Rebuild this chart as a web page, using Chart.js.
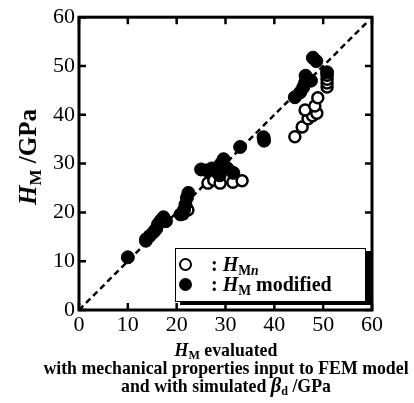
<!DOCTYPE html>
<html>
<head>
<meta charset="utf-8">
<script src="https://cdn.jsdelivr.net/npm/chart.js@4/dist/chart.umd.min.js"></script>
<style>
  html, body { margin: 0; padding: 0; background: #fff; }
  #wrap { position: relative; width: 414px; height: 403px; overflow: hidden; }
  canvas { position: absolute; left: 0; top: 0; }
  .serif { font-family: "Liberation Serif", "Times New Roman", serif; font-weight: bold; color: #000; }
  .sub { font-size: 0.68em; vertical-align: -0.28em; line-height: 0; }
  #ytitle { position: absolute; left: 28px; top: 157px; transform: translate(-50%, -50%) rotate(-90deg); font-size: 25px; white-space: nowrap; }
  #xtitle { position: absolute; left: 226px; top: 342px; transform: translateX(-50%); font-size: 17.8px; line-height: 17.5px; text-align: center; white-space: nowrap; }
  #legend { position: absolute; left: 175px; top: 248px; width: 189px; height: 52px; border: 1.5px solid #000; background: #fff; box-shadow: 5px 3px 0 #000; font-size: 20px; }
  .mk { position: absolute; width: 9px; height: 9px; border-radius: 50%; border: 2.5px solid #000; }
  .row { position: absolute; left: 35px; white-space: nowrap; line-height: 20px; }
</style>
</head>
<body>
<div id="wrap">
  <canvas id="c" width="414" height="403"></canvas>
  <div id="ytitle" class="serif"><i>H</i><span class="sub">M</span> /GPa</div>
  <div id="xtitle" class="serif">
    <div><i>H</i><span class="sub">M</span> evaluated</div>
    <div>with mechanical properties input to FEM model</div>
    <div>and with simulated <i style="font-size:1.15em">&beta;</i><span class="sub">d</span> /GPa</div>
  </div>
  <div id="legend" class="serif">
    <div class="mk" style="left:3px;top:9px;background:#fff;"></div>
    <div class="mk" style="left:3px;top:29px;background:#000;"></div>
    <div class="row" style="top:5px;">: <i>H</i><span class="sub">M<i>n</i></span></div>
    <div class="row" style="top:25px;">: <i>H</i><span class="sub">M</span> modified</div>
  </div>
</div>
<script>
// ---- data ----
const filledX = [10.0, 13.7, 14.5, 15.3, 15.8, 16.2, 16.8, 17.3, 17.8, 20.8, 21.5, 21.8, 22.1, 22.4,
                 25.0, 26.2, 27.2, 28.2, 29.0, 29.6, 28.8, 30.4, 31.6, 33.0, 37.8, 37.9,
                 44.2, 45.3, 45.9, 46.3, 46.4, 47.5, 47.9, 48.6, 50.8];
const filledY = [10.8, 14.2, 15.2, 16.0, 16.6, 17.6, 18.4, 19.0, 18.2, 19.6, 20.5, 21.6, 23.0, 24.0,
                 28.8, 28.6, 29.0, 28.3, 29.9, 30.9, 27.6, 29.0, 28.1, 33.4, 35.4, 34.7,
                 43.6, 44.6, 45.6, 46.6, 48.0, 47.0, 51.7, 51.0, 48.7];
const openX = [13.7, 21.3, 22.3, 26.4, 27.6, 28.9, 31.5, 33.4,
               44.2, 45.7, 46.9, 47.8, 48.7, 46.3, 48.3, 48.9, 50.8, 50.8, 50.8, 50.8];
const openY = [14.5, 19.7, 20.5, 26.0, 26.6, 26.0, 26.2, 26.5,
               35.5, 37.5, 39.2, 39.8, 40.3, 41.0, 41.8, 43.5, 45.7, 46.5, 47.3, 48.1];
const lineX = [0, 59];
const lineY = [0, 59];
const tickValues = [0, 10, 20, 30, 40, 50, 60];

const toPts = (xs, ys) => xs.map((x, i) => ({ x: x, y: ys[i] }));

const framePlugin = {
  id: 'frame',
  afterDatasetsDraw(chart) {
    const { ctx, chartArea: a, scales } = chart;
    ctx.save();
    ctx.strokeStyle = '#000';
    ctx.lineWidth = 2.5;
    const tl = 7;
    ctx.beginPath();
    tickValues.forEach(v => {
      const px = scales.x.getPixelForValue(v);
      const py = scales.y.getPixelForValue(v);
      ctx.moveTo(px, a.bottom); ctx.lineTo(px, a.bottom - tl);
      ctx.moveTo(px, a.top); ctx.lineTo(px, a.top + tl);
      ctx.moveTo(a.left, py); ctx.lineTo(a.left + tl, py);
      ctx.moveTo(a.right, py); ctx.lineTo(a.right - tl, py);
    });
    ctx.stroke();
    ctx.lineWidth = 3;
    ctx.strokeRect(a.left, a.top, a.right - a.left, a.bottom - a.top);
    ctx.restore();
  }
};

new Chart(document.getElementById('c'), {
  type: 'scatter',
  data: {
    datasets: [
      { label: 'HM modified', data: toPts(filledX, filledY), order: 0,
        pointRadius: 6.5, pointBackgroundColor: '#000', pointBorderColor: '#000', pointBorderWidth: 1 },
      { label: 'HMn', data: toPts(openX, openY), order: 1,
        pointRadius: 5.5, pointBackgroundColor: '#fff', pointBorderColor: '#000', pointBorderWidth: 2.5 },
      { label: 'y=x', type: 'line', data: toPts(lineX, lineY), order: 2,
        borderColor: '#000', borderWidth: 2.5, borderDash: [6, 4], pointRadius: 0, fill: false }
    ]
  },
  options: {
    responsive: false,
    animation: false,
    events: [],
    layout: { padding: { top: 16, right: 42, left: 0, bottom: 0 } },
    plugins: { legend: { display: false }, tooltip: { enabled: false }, title: { display: false } },
    scales: {
      x: {
        type: 'linear', min: 0, max: 60,
        afterFit(s) { s.height = 93; },
        afterBuildTicks(s) { s.ticks = tickValues.map(v => ({ value: v })); },
        grid: { display: false, drawTicks: false },
        border: { display: false },
        ticks: { color: '#000', padding: 2, maxRotation: 0,
                 font: { family: '"Liberation Serif", "Times New Roman", serif', size: 22 } }
      },
      y: {
        type: 'linear', min: 0, max: 60,
        afterFit(s) { s.width = 79; },
        afterBuildTicks(s) { s.ticks = tickValues.map(v => ({ value: v })); },
        grid: { display: false, drawTicks: false },
        border: { display: false },
        ticks: { color: '#000', padding: 4,
                 font: { family: '"Liberation Serif", "Times New Roman", serif', size: 22 } }
      }
    }
  },
  plugins: [framePlugin]
});
</script>
</body>
</html>
